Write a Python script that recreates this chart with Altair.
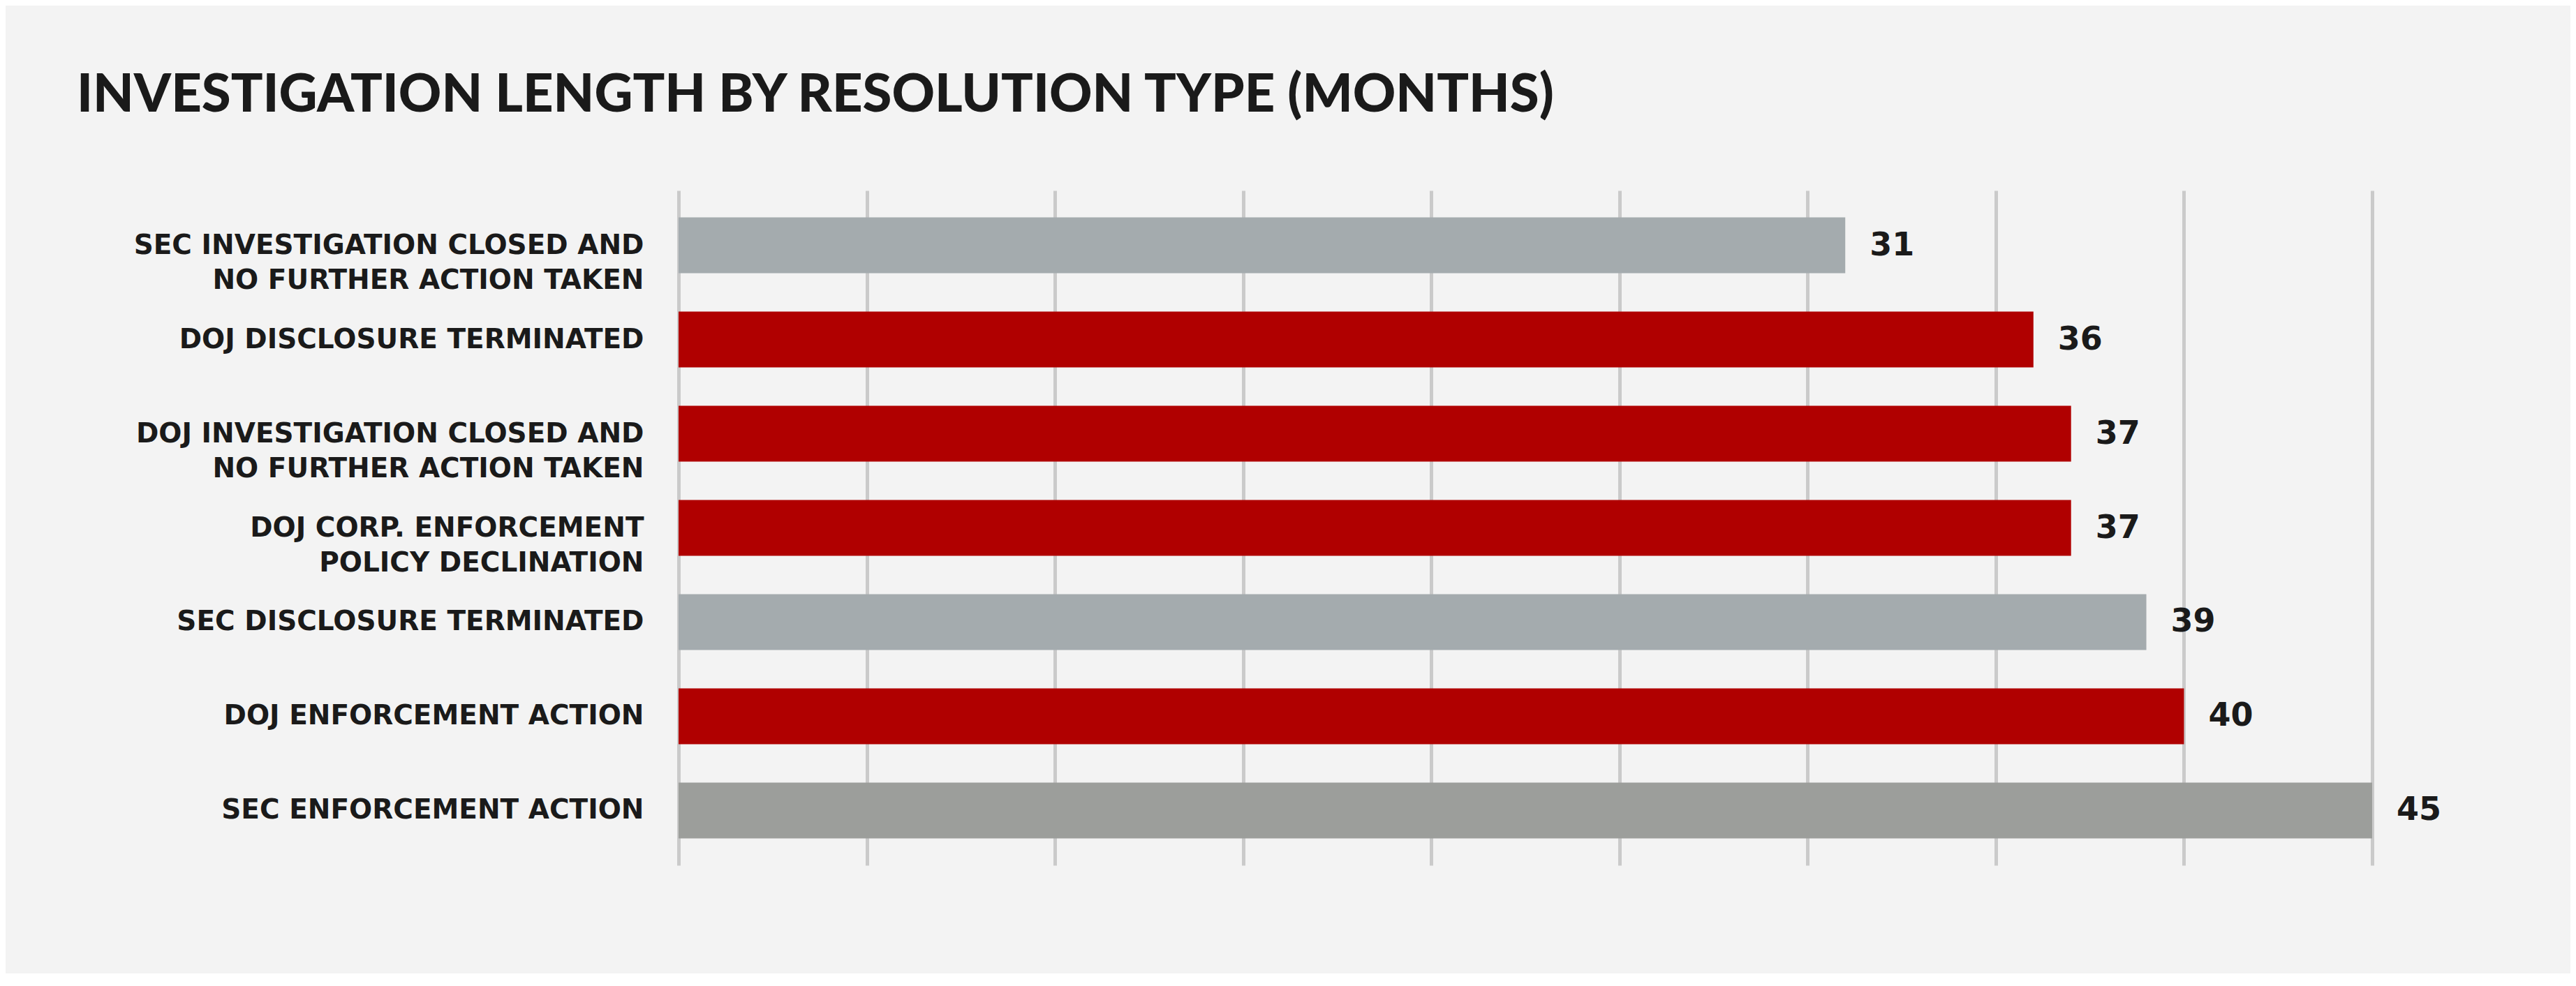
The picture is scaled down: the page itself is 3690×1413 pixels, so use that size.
import altair as alt
import pandas as pd

# ---- data ----
categories = [
    "SEC INVESTIGATION CLOSED AND\nNO FURTHER ACTION TAKEN",
    "DOJ DISCLOSURE TERMINATED",
    "DOJ INVESTIGATION CLOSED AND\nNO FURTHER ACTION TAKEN",
    "DOJ CORP. ENFORCEMENT\nPOLICY DECLINATION",
    "SEC DISCLOSURE TERMINATED",
    "DOJ ENFORCEMENT ACTION",
    "SEC ENFORCEMENT ACTION",
]
months = [31, 36, 37, 37, 39, 40, 45]
grid_values = [0, 5, 10, 15, 20, 25, 30, 35, 40, 45]

# bar colours, one per category (style, kept separate from the data)
bar_colors = ["#A4ABAE", "#B00000", "#B00000", "#B00000", "#A4ABAE", "#B00000", "#9C9E9B"]

df = pd.DataFrame({"category": categories, "months": months})

y_enc = alt.Y(
    "category:N",
    sort=None,
    scale=alt.Scale(paddingInner=0.407, paddingOuter=0.285),
    axis=alt.Axis(
        title=None,
        domain=False,
        ticks=False,
        labelPadding=50,
        labelFont="DejaVu Sans",
        labelFontWeight="bold",
        labelFontSize=39,
        labelColor="#1a1a1a",
        labelLineHeight=50,
        labelLimit=1000,
        labelExpr="split(datum.label, '\\n')",
    ),
)

x_enc = alt.X(
    "months:Q",
    scale=alt.Scale(domain=[0, 45], nice=False, zero=True),
    axis=alt.Axis(
        title=None,
        values=grid_values,
        labels=False,
        ticks=False,
        domain=False,
        grid=True,
        gridColor="#CACACA",
        gridWidth=5,
    ),
)

bars = alt.Chart(df).mark_bar().encode(
    x=x_enc,
    y=y_enc,
    color=alt.Color(
        "category:N",
        scale=alt.Scale(domain=categories, range=bar_colors),
        legend=None,
    ),
)

labels = alt.Chart(df).mark_text(
    align="left",
    baseline="middle",
    dx=35,
    font="DejaVu Sans",
    fontWeight="bold",
    fontSize=46,
    color="#1a1a1a",
).encode(
    x="months:Q",
    y=alt.Y("category:N", sort=None),
    text="months:Q",
)

chart = (
    alt.layer(bars, labels)
    .properties(
        width=2426,
        height=967,
        title=alt.TitleParams(
            text="INVESTIGATION LENGTH BY RESOLUTION TYPE (MONTHS)",
            anchor="start",
            frame="group",
            dx=-862,
            offset=37,
            baseline="alphabetic",
            font="Lato",
            fontWeight=900,
            fontSize=76,
            color="#1a1a1a",
        ),
        autosize=alt.AutoSizeParams(type="none"),
        padding={"left": 964, "top": 265, "right": 284, "bottom": 155},
        background="#F3F3F3",
    )
    .configure_view(stroke=None)
)

chart.save("out.html", embed_options={"renderer": "svg", "actions": False})
